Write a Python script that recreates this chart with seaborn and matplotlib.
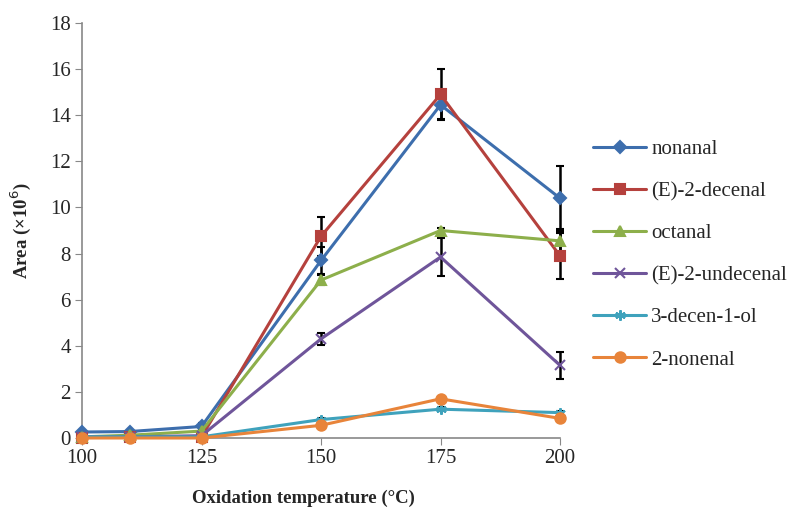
import numpy as np
import pandas as pd
import matplotlib
matplotlib.use("Agg")
import matplotlib.pyplot as plt
import seaborn as sns

# temperatures (C)
temps = [100, 110, 125, 150, 175, 200]

compounds = ['nonanal', '(E)-2-decenal', 'octanal', '(E)-2-undecenal',
             '3-decen-1-ol', '2-nonenal']

nonanal = [0.26, 0.28, 0.50, 7.70, 14.45, 10.40]
decenal = [0.02, 0.03, 0.05, 8.75, 14.90, 7.90]
octanal = [0.05, 0.12, 0.30, 6.85, 9.00, 8.55]
undecenal = [0.05, 0.05, 0.10, 4.30, 7.85, 3.15]
decenol = [0.05, 0.05, 0.05, 0.80, 1.25, 1.10]
nonenal = [0.00, 0.00, 0.00, 0.55, 1.70, 0.85]

nonanal_err = [0.03, 0.03, 0.15, 0.60, 0.60, 1.40]
decenal_err = [0.01, 0.01, 0.02, 0.85, 1.10, 1.00]
octanal_err = [0.01, 0.02, 0.05, 0.20, 0.12, 0.50]
undecenal_err = [0.01, 0.01, 0.02, 0.25, 0.83, 0.60]
decenol_err = [0.01, 0.01, 0.01, 0.05, 0.08, 0.08]
nonenal_err = [0.00, 0.00, 0.00, 0.05, 0.08, 0.05]

values = [nonanal, decenal, octanal, undecenal, decenol, nonenal]
errors = [nonanal_err, decenal_err, octanal_err, undecenal_err, decenol_err, nonenal_err]

colors = ['#3D6EAD', '#B5413D', '#8DAF4B', '#6F559A', '#3FA2BC', '#E8843A']
markers = ['D', 's', '^', 'x', (6, 2, 0), 'o']
sizes = [6.5, 6.5, 7.5, 7.5, 7.5, 7.5]

df = pd.DataFrame({
    'temp': temps * len(compounds),
    'area': sum(values, []),
    'compound': np.repeat(compounds, len(temps)),
})

sns.set_style('white')
plt.rcParams['font.family'] = ['Liberation Serif', 'DejaVu Serif']

fig = plt.figure(figsize=(7.94, 5.09), dpi=100)
ax = fig.add_axes([0.1033, 0.1395, 0.602, 0.8153])

for i, name in enumerate(compounds):
    sub = df[df['compound'] == name]
    sns.lineplot(data=sub, x='temp', y='area', color=colors[i], marker=markers[i],
                 markersize=sizes[i], markeredgecolor=colors[i], markeredgewidth=1.5,
                 linewidth=2.2, label=name, ax=ax, zorder=3, clip_on=False)
    ax.errorbar(temps, values[i], yerr=errors[i], fmt='none', ecolor='black',
                elinewidth=1.8, capsize=3, capthick=1.5, zorder=2.5, clip_on=False)

ax.set_xlim(100, 200)
ax.set_ylim(0, 18)
ax.set_xticks([100, 125, 150, 175, 200])
ax.set_yticks(range(0, 19, 2))
ax.tick_params(axis='both', labelsize=15, length=5, direction='out', color='#888888',
               bottom=True, left=True, pad=3)
ax.set_xlabel('Oxidation temperature (\u00b0C)', fontsize=13.5, fontweight='bold')
ax.set_ylabel('Area (\u00d710$^{6}$)', fontsize=13.5, fontweight='bold')
ax.xaxis.set_label_coords(0.464, -0.125)
ax.yaxis.set_label_coords(-0.102, 0.5)

for side in ['top', 'right']:
    ax.spines[side].set_visible(False)
for side in ['left', 'bottom']:
    ax.spines[side].set_color('#888888')
    ax.spines[side].set_linewidth(1.2)

ax.legend(loc='center left', bbox_to_anchor=(1.069, 0.442), frameon=False, fontsize=15,
          handlelength=2.55, labelspacing=1.08, handletextpad=0.25,
          borderpad=0, borderaxespad=0)

plt.savefig('out.png', dpi=100)
